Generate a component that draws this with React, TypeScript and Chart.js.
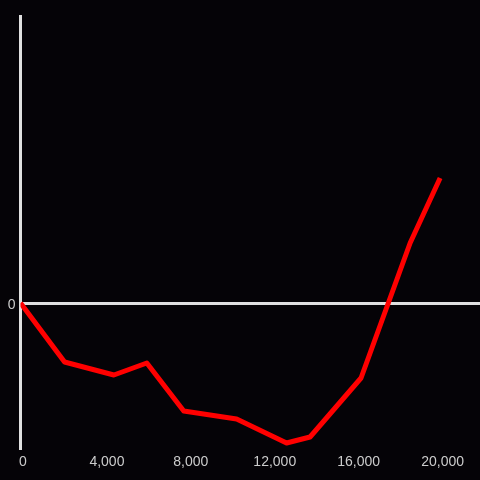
import React, { useEffect, useRef } from "react";
import { Chart, registerables } from "chart.js";

Chart.register(...registerables);

const xValues = [0, 2100, 4450, 6020, 7780, 10300, 12680, 13800, 16230, 18570, 20000];
const yValues = [0, -5.9, -7.2, -6.0, -10.8, -11.6, -14.0, -13.4, -7.5, 6.0, 12.5];
const xTickValues = [0, 4000, 8000, 12000, 16000, 20000];
const yTickValues = [0];

const BG = "#050307";
const AXIS = "#e0e0e0";
const TEXT = "#cccccc";

export default function App() {
  const ref = useRef<HTMLCanvasElement | null>(null);

  useEffect(() => {
    document.body.style.margin = "0";
    document.body.style.background = BG;
    const ctx = ref.current!;
    const chart = new Chart(ctx, {
      type: "line",
      data: {
        datasets: [
          {
            data: xValues.map((x, i) => ({ x, y: yValues[i] })),
            borderColor: "#ff0000",
            borderWidth: 5,
            pointRadius: 0,
            tension: 0,
            fill: false,
            borderJoinStyle: "round",
          },
        ],
      },
      options: {
        responsive: false,
        animation: false,
        layout: { padding: { top: 16, right: 0, left: 0, bottom: 0 } },
        plugins: { legend: { display: false }, tooltip: { enabled: false } },
        scales: {
          x: {
            type: "linear",
            min: 0,
            max: 21900,
            afterBuildTicks: (axis: any) => {
              axis.ticks = xTickValues.map((v) => ({ value: v }));
            },
            afterFit: (scale: any) => {
              scale.height = 32;
            },
            grid: { display: false, drawTicks: false },
            border: { display: false },
            ticks: {
              color: TEXT,
              padding: 6,
              labelOffset: 2.5,
              maxRotation: 0,
              autoSkip: false,
              font: { family: "Liberation Sans", size: 14 },
            },
          },
          y: {
            min: -14.5,
            max: 28.7,
            afterBuildTicks: (axis: any) => {
              axis.ticks = yTickValues.map((v) => ({ value: v }));
            },
            afterFit: (scale: any) => {
              scale.width = 20.5;
            },
            grid: {
              drawTicks: false,
              color: AXIS,
              lineWidth: 3,
            },
            border: { display: true, color: AXIS, width: 3 },
            ticks: {
              color: TEXT,
              padding: 5,
              labelOffset: 2,
              font: { family: "Liberation Sans", size: 14 },
            },
          },
        },
      },
    });
    return () => chart.destroy();
  }, []);

  return (
    <div style={{ position: "fixed", left: 0, top: 0, width: 480, height: 480, background: BG }}>
      <canvas ref={ref} width={480} height={480} style={{ display: "block" }} />
    </div>
  );
}
